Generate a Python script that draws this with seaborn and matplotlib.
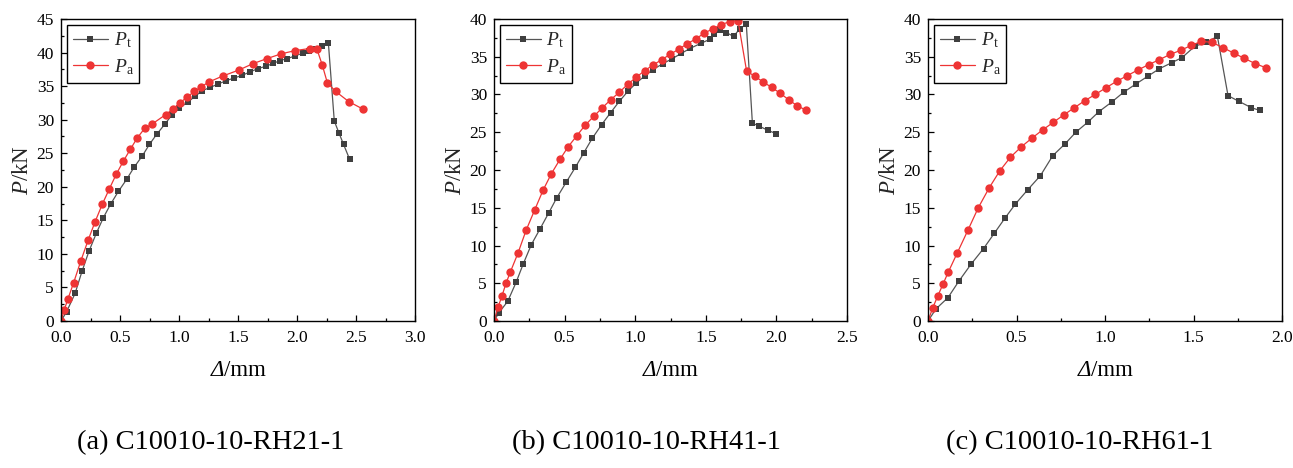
import matplotlib
matplotlib.use("Agg")
import matplotlib.pyplot as plt
import seaborn as sns
import pandas as pd
from matplotlib.ticker import MultipleLocator, AutoMinorLocator
from matplotlib.offsetbox import TextArea, HPacker, AnchoredOffsetbox

# ---------------- data ----------------
# (a) C10010-10-RH21-1
a_t_x = [0, 0.048, 0.119, 0.178, 0.237, 0.300, 0.359, 0.420, 0.486, 0.556, 0.619, 0.689, 0.749, 0.810,
         0.879, 0.940, 1.000, 1.073, 1.138, 1.195, 1.263, 1.330, 1.398, 1.466, 1.534, 1.600, 1.667,
         1.735, 1.800, 1.856, 1.918, 1.983, 2.048, 2.105, 2.160, 2.209, 2.266, 2.316, 2.356, 2.395, 2.446]
a_t_y = [0, 1.4, 4.1, 7.4, 10.4, 13.1, 15.4, 17.4, 19.3, 21.1, 22.9, 24.6, 26.3, 27.8,
         29.3, 30.7, 31.7, 32.6, 33.5, 34.3, 34.8, 35.3, 35.8, 36.2, 36.6, 37.1, 37.6,
         37.95, 38.4, 38.8, 39.1, 39.5, 39.9, 40.3, 40.6, 41.0, 41.4, 29.8, 28.0, 26.3, 24.1]
a_a_x = [0, 0.028, 0.059, 0.107, 0.167, 0.229, 0.288, 0.350, 0.410, 0.469, 0.528, 0.588, 0.647, 0.709,
         0.768, 0.887, 0.949, 1.008, 1.071, 1.130, 1.189, 1.251, 1.370, 1.508, 1.627, 1.746, 1.864,
         1.986, 2.107, 2.169, 2.215, 2.257, 2.328, 2.438, 2.556]
a_a_y = [0, 1.7, 3.3, 5.7, 8.9, 12.0, 14.75, 17.4, 19.7, 21.9, 23.8, 25.6, 27.3, 28.7,
         29.3, 30.75, 31.6, 32.5, 33.4, 34.2, 34.9, 35.6, 36.5, 37.4, 38.35, 39.1, 39.8,
         40.3, 40.6, 40.5, 38.1, 35.5, 34.2, 32.7, 31.6]

# (b) C10010-10-RH41-1
b_t_x = [0, 0.035, 0.097, 0.156, 0.208, 0.264, 0.326, 0.387, 0.444, 0.512, 0.576, 0.635, 0.696, 0.762,
         0.826, 0.888, 0.947, 1.006, 1.067, 1.126, 1.197, 1.258, 1.327, 1.388, 1.468, 1.527, 1.558,
         1.603, 1.645, 1.697, 1.740, 1.787, 1.830, 1.880, 1.940, 2.000]
b_t_y = [0, 1.1, 2.6, 5.1, 7.6, 10.1, 12.2, 14.3, 16.3, 18.4, 20.35, 22.25, 24.2, 26.0,
         27.6, 29.1, 30.4, 31.5, 32.45, 33.3, 34.1, 34.7, 35.45, 36.1, 36.8, 37.3, 37.97,
         38.5, 38.2, 37.7, 38.7, 39.3, 26.2, 25.8, 25.25, 24.8]
b_a_x = [0, 0.028, 0.057, 0.085, 0.116, 0.170, 0.227, 0.288, 0.347, 0.406, 0.467, 0.526, 0.585, 0.644,
         0.706, 0.765, 0.826, 0.888, 0.947, 1.008, 1.067, 1.126, 1.187, 1.246, 1.308, 1.367, 1.428,
         1.487, 1.549, 1.608, 1.669, 1.728, 1.789, 1.848, 1.907, 1.966, 2.028, 2.087, 2.148, 2.207]
b_a_y = [0, 1.8, 3.35, 5.0, 6.5, 9.0, 12.0, 14.7, 17.3, 19.5, 21.4, 23.1, 24.5, 25.9,
         27.1, 28.2, 29.3, 30.3, 31.35, 32.3, 33.15, 33.9, 34.6, 35.3, 36.0, 36.7, 37.35,
         38.1, 38.7, 39.25, 39.65, 39.8, 33.1, 32.4, 31.65, 30.95, 30.15, 29.3, 28.5, 27.95]

# (c) C10010-10-RH61-1
c_t_x = [0, 0.045, 0.113, 0.175, 0.244, 0.314, 0.374, 0.434, 0.494, 0.564, 0.635, 0.705, 0.776, 0.835,
         0.906, 0.964, 1.038, 1.105, 1.175, 1.244, 1.306, 1.376, 1.436, 1.508, 1.573, 1.635,
         1.695, 1.756, 1.827, 1.874]
c_t_y = [0, 1.6, 3.1, 5.3, 7.55, 9.6, 11.6, 13.6, 15.5, 17.4, 19.25, 21.9, 23.5, 25.0,
         26.4, 27.7, 29.0, 30.3, 31.4, 32.45, 33.4, 34.2, 34.9, 36.4, 36.9, 37.7,
         29.85, 29.1, 28.25, 27.9]
c_a_x = [0, 0.026, 0.055, 0.085, 0.115, 0.165, 0.226, 0.284, 0.346, 0.406, 0.466, 0.526, 0.586, 0.647,
         0.707, 0.767, 0.827, 0.887, 0.945, 1.006, 1.066, 1.126, 1.186, 1.246, 1.306, 1.367, 1.427,
         1.487, 1.545, 1.605, 1.667, 1.726, 1.786, 1.848, 1.908]
c_a_y = [0, 1.7, 3.3, 4.9, 6.5, 9.0, 12.05, 15.0, 17.65, 19.9, 21.7, 23.05, 24.2, 25.3,
         26.3, 27.3, 28.25, 29.2, 30.0, 30.9, 31.75, 32.5, 33.25, 33.95, 34.6, 35.3, 35.85,
         36.5, 37.05, 36.9, 36.2, 35.5, 34.8, 34.1, 33.55]

captions = ["(a) C10010-10-RH21-1", "(b) C10010-10-RH41-1", "(c) C10010-10-RH61-1"]
x_limits = [3.0, 2.5, 2.0]
y_limits = [45, 40, 40]
series_labels = [r"$P_\mathrm{t}$", r"$P_\mathrm{a}$"]
xlabel_parts = ["Δ", "/mm"]

panels = [
    ((a_t_x, a_t_y), (a_a_x, a_a_y)),
    ((b_t_x, b_t_y), (b_a_x, b_a_y)),
    ((c_t_x, c_t_y), (c_a_x, c_a_y)),
]

# ---------------- style ----------------
sns.set_theme(style="ticks")
plt.rcParams["font.family"] = ["Liberation Serif", "DejaVu Serif"]
plt.rcParams["mathtext.fontset"] = "custom"
plt.rcParams["mathtext.rm"] = "Liberation Serif"
plt.rcParams["mathtext.it"] = "Liberation Serif:italic"
plt.rcParams["axes.linewidth"] = 1.0

W, H = 1293, 468
fig = plt.figure(figsize=(W / 100, H / 100), dpi=100)
fig.patch.set_facecolor("white")

axes_px = [(61, 415), (494, 847), (928, 1282)]
top_px, bot_px = 19, 321
cap_centers = [211, 646, 1080]

black_line = "#555555"
black_mk = "#3f3f3f"
red = "#ee3434"

for i, ((tx, ty), (ax_x, ax_y)) in enumerate(panels):
    l, r = axes_px[i]
    ax = fig.add_axes([l / W, 1 - bot_px / H, (r - l) / W, (bot_px - top_px) / H])
    ax.set_facecolor("white")
    dt = pd.DataFrame({"x": tx, "y": ty})
    da = pd.DataFrame({"x": ax_x, "y": ax_y})
    sns.lineplot(data=dt, x="x", y="y", ax=ax, sort=False, estimator=None,
                 color=black_line, linewidth=0.9, marker="s", markersize=5.0,
                 markerfacecolor=black_mk, markeredgewidth=0, label=series_labels[0])
    sns.lineplot(data=da, x="x", y="y", ax=ax, sort=False, estimator=None,
                 color=red, linewidth=0.9, marker="o", markersize=6.0,
                 markerfacecolor=red, markeredgewidth=0, label=series_labels[1])
    ax.set_xlim(0, x_limits[i])
    ax.set_ylim(0, y_limits[i])
    ax.xaxis.set_major_locator(MultipleLocator(0.5))
    ax.xaxis.set_minor_locator(AutoMinorLocator(2))
    ax.yaxis.set_major_locator(MultipleLocator(5))
    ax.yaxis.set_minor_locator(AutoMinorLocator(2))
    ax.xaxis.set_major_formatter(matplotlib.ticker.FormatStrFormatter("%.1f"))
    ax.tick_params(which="both", direction="in", top=False, right=False,
                   labelsize=12.5, colors="black", width=0.9)
    ax.tick_params(axis="x", which="major", length=4.0, pad=6.5)
    ax.tick_params(axis="y", which="major", length=4.0, pad=5)
    ax.tick_params(which="minor", length=2.2)
    for s in ax.spines.values():
        s.set_visible(True)
        s.set_color("black")
        s.set_linewidth(1.0)
    ax.set_xlabel("")
    ax.set_ylabel(r"$P\mathrm{/kN}$", fontsize=16.5, labelpad=3)
    # x label: italic Delta + upright "/mm"
    box = HPacker(children=[
        TextArea(xlabel_parts[0], textprops=dict(fontsize=16.5, fontstyle="italic", color="black")),
        TextArea(xlabel_parts[1], textprops=dict(fontsize=16.5, color="black")),
    ], sep=0, pad=0, align="baseline")
    anc = AnchoredOffsetbox(loc="center", child=box, pad=0, borderpad=0, frameon=False,
                            bbox_to_anchor=(0.5, -0.165), bbox_transform=ax.transAxes)
    ax.add_artist(anc)
    leg = ax.legend(loc="upper left", fontsize=14, frameon=True, fancybox=False,
                    edgecolor="black", framealpha=1, borderaxespad=0.3,
                    handlelength=1.8, handletextpad=0.3, borderpad=0.3,
                    labelspacing=0.35)
    leg.get_frame().set_linewidth(1.0)
    fig.text(cap_centers[i] / W, 1 - 443 / H, captions[i], ha="center", va="center",
             fontsize=20.5, color="black")

fig.savefig("out.png", dpi=100, facecolor="white")
